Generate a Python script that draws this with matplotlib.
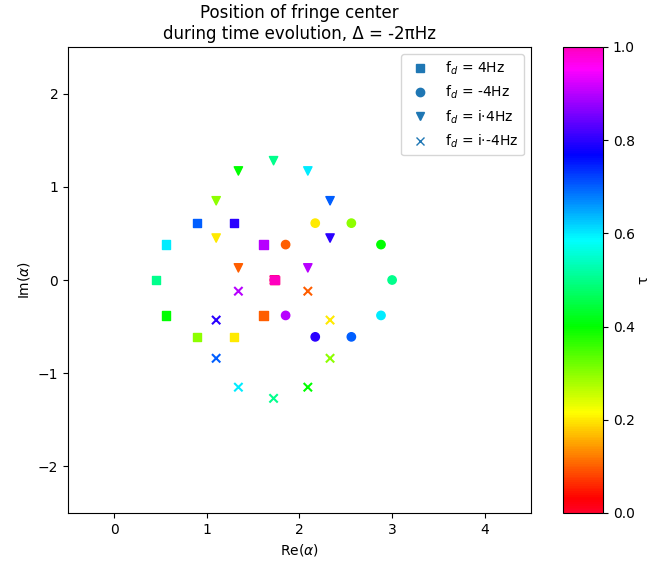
import matplotlib
matplotlib.use("Agg")
import matplotlib.pyplot as plt
from matplotlib.lines import Line2D
import numpy as np

# Evolution time (normalised) for each recorded fringe centre
tau = [0.0, 0.1, 0.2, 0.3, 0.4, 0.5, 0.6, 0.7, 0.8, 0.9, 1.0]

# f_d = 4 Hz
re_pos = [1.73, 1.61, 1.29, 0.89, 0.56, 0.45, 0.56, 0.89, 1.29, 1.61, 1.73]
im_pos = [0.00, -0.38, -0.61, -0.61, -0.38, 0.00, 0.38, 0.61, 0.61, 0.38, 0.00]

# f_d = -4 Hz
re_neg = [1.73, 1.85, 2.17, 2.56, 2.88, 3.00, 2.88, 2.56, 2.17, 1.85, 1.73]
im_neg = [0.00, 0.38, 0.61, 0.61, 0.38, 0.00, -0.38, -0.61, -0.61, -0.38, 0.00]

# f_d = i*4 Hz
re_ipos = [1.73, 1.34, 1.10, 1.10, 1.34, 1.72, 2.09, 2.33, 2.33, 2.09, 1.73]
im_ipos = [0.00, 0.13, 0.45, 0.85, 1.17, 1.28, 1.17, 0.85, 0.45, 0.13, 0.00]

# f_d = i*-4 Hz
re_ineg = [1.73, 2.09, 2.33, 2.33, 2.09, 1.72, 1.34, 1.10, 1.10, 1.34, 1.73]
im_ineg = [0.00, -0.12, -0.43, -0.84, -1.15, -1.27, -1.15, -0.84, -0.43, -0.12, 0.00]

series_labels = ["f$_d$ = 4Hz", "f$_d$ = -4Hz", "f$_d$ = i\u00b74Hz", "f$_d$ = i\u00b7-4Hz"]
series_markers = ["s", "o", "v", "x"]

xticks = [0, 1, 2, 3, 4]
yticks = [-2, -1, 0, 1, 2]
cbar_ticks = [0.0, 0.2, 0.4, 0.6, 0.8, 1.0]

plt.rcParams["font.family"] = ["DejaVu Sans"]
plt.rcParams["font.size"] = 10

fig = plt.figure(figsize=(6.51, 5.65), dpi=100)
ax = fig.add_axes([68 / 651, 52 / 565, 463 / 651, 466 / 565])
cax = fig.add_axes([563 / 651, 52 / 565, 40 / 651, 466 / 565])

cmap = plt.get_cmap("gist_rainbow")
data = [(re_pos, im_pos), (re_neg, im_neg), (re_ipos, im_ipos), (re_ineg, im_ineg)]

# draw the later series underneath so the 4 Hz trace sits on top
sc = None
for k in reversed(range(4)):
    xs, ys = data[k]
    sc = ax.scatter(xs, ys, c=tau, cmap=cmap, vmin=0, vmax=1,
                    marker=series_markers[k], s=36, zorder=3 + (3 - k))

ax.set_xlim(-0.5, 4.5)
ax.set_ylim(-2.5, 2.5)
ax.set_xticks(xticks)
ax.set_yticks(yticks)
ax.set_xlabel(r"Re($\alpha$)")
ax.set_ylabel(r"Im($\alpha$)")
ax.set_title("Position of fringe center\nduring time evolution, \u0394 = -2\u03c0Hz")

handles = [Line2D([], [], linestyle="none", marker=m, color="C0", markersize=6)
           for m in series_markers]
ax.legend(handles, series_labels, loc="upper right")

cb = fig.colorbar(sc, cax=cax, ticks=cbar_ticks)
cb.set_label("\u03c4", labelpad=1)

fig.savefig("out.png", dpi=100)
